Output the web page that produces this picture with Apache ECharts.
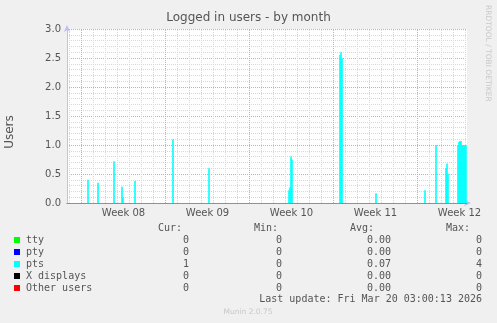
<!DOCTYPE html>
<html>
<head>
<meta charset="utf-8">
<script src="https://cdn.jsdelivr.net/npm/echarts@6/dist/echarts.min.js"></script>
<style>
html,body{margin:0;padding:0;background:#F0F0F0;}
#chart{width:497px;height:323px;}
</style>
</head>
<body>
<div id="chart"></div>
<script>
// ---- Data (x = hours since Monday 00:00 of week 08; each value covers a 2-hour slot) ----
const xMinHour = -29;
const xMaxHour = 771;
const slotHours = 2;
const ptsHours  = [12, 32, 64, 80, 82, 106, 182, 254, 414, 416, 418, 420, 516, 518, 520, 588, 686, 708, 728, 730, 732, 752, 754, 756, 758, 760, 762, 764, 766, 768];
const ptsValues = [0.40, 0.35, 0.72, 0.28, 0.10, 0.38, 1.10, 0.60, 0.22, 0.27, 0.80, 0.75, 2.55, 2.60, 2.50, 0.17, 0.22, 1.00, 0.60, 0.68, 0.50, 1.00, 1.05, 1.07, 1.07, 1.00, 1.00, 1.00, 1.00, 1.00];
const weekLabels = ['Week 08', 'Week 09', 'Week 10', 'Week 11', 'Week 12'];
const weekMidHours = [84, 252, 420, 588, 756];
const weekStartHours = [0, 168, 336, 504, 672];
const dayHours = [-24, 24, 48, 72, 96, 120, 144, 192, 216, 240, 264, 288, 312, 360, 384, 408, 432, 456, 480, 528, 552, 576, 600, 624, 648, 696, 720, 744, 768];
const yTicks = [0, 0.5, 1.0, 1.5, 2.0, 2.5, 3.0];

const legendNames  = ['tty', 'pty', 'pts', 'X displays', 'Other users'];
const legendColors = ['#00FF00', '#0000FF', '#00FFFF', '#000000', '#FF0000'];
const curVals = ['0', '0', '1', '0', '0'];
const minVals = ['0', '0', '0', '0', '0'];
const avgVals = ['0.00', '0.00', '0.07', '0.00', '0.00'];
const maxVals = ['0', '0', '4', '0', '0'];

// ---- Build series data (bar centred in its 2-hour slot) ----
const ptsData = ptsHours.map((h, i) => [h + slotHours / 2, ptsValues[i]]);

const TXT = '#555555';
const MONO = "'DejaVu Sans Mono', monospace";
const SANS = "'DejaVu Sans', sans-serif";

const graphics = [
  {type:'text', left:'center', top:12, style:{text:'Logged in users - by month', font:'12px ' + SANS, fill:TXT}},
  {type:'text', x:10, y:132, rotation:Math.PI/2, style:{text:'Users', font:'12px ' + SANS, fill:TXT, align:'center', verticalAlign:'middle'}},
  {type:'text', x:488, y:5, rotation:-Math.PI/2, style:{text:'RRDTOOL / TOBI OETIKER', font:'7.5px ' + SANS, fill:'#C8C8C8', align:'left', verticalAlign:'middle'}},
  {type:'text', x:248, y:312, style:{text:'Munin 2.0.75', font:'7.5px ' + SANS, fill:'#C8C8C8', align:'center', verticalAlign:'middle'}},
  {type:'text', x:482, y:299, style:{text:'Last update: Fri Mar 20 03:00:13 2026', font:'10px ' + MONO, fill:TXT, align:'right', verticalAlign:'middle'}}
];
const headers = [['Cur:', 182], ['Min:', 278], ['Avg:', 374], ['Max:', 470]];
headers.forEach(h => graphics.push({type:'text', x:h[1], y:228, style:{text:h[0], font:'10px ' + MONO, fill:TXT, align:'right', verticalAlign:'middle'}}));
const colRight = [189, 282, 391, 482];
legendNames.forEach((name, i) => {
  const y = 240 + i * 12;
  graphics.push({type:'rect', shape:{x:14, y:y - 3, width:6, height:6}, style:{fill:legendColors[i]}});
  graphics.push({type:'text', x:26, y:y, style:{text:name, font:'10px ' + MONO, fill:TXT, align:'left', verticalAlign:'middle'}});
  [curVals[i], minVals[i], avgVals[i], maxVals[i]].forEach((v, j) => {
    graphics.push({type:'text', x:colRight[j], y:y, style:{text:v, font:'10px ' + MONO, fill:TXT, align:'right', verticalAlign:'middle'}});
  });
});

const gridLines = [];
dayHours.forEach(h => gridLines.push({xAxis:h, lineStyle:{color:'#D8D8D8', type:'dotted', width:1}}));
weekStartHours.forEach(h => gridLines.push({xAxis:h, lineStyle:{color:'#E8A0A0', type:'dotted', width:1}}));

const chart = echarts.init(document.getElementById('chart'), null, {renderer:'canvas'});
chart.setOption({
  backgroundColor:'#F0F0F0',
  animation:false,
  grid:{left:67, right:30, top:29, bottom:120, show:true, backgroundColor:'#FFFFFF', borderWidth:0},
  xAxis:[{
    type:'value', min:xMinHour, max:xMaxHour,
    splitLine:{show:false},
    axisTick:{show:false},
    axisLine:{show:true, onZero:false, lineStyle:{color:'#C0C0F0', width:1}, symbol:['none','arrow'], symbolSize:[5,7], symbolOffset:[0,4]},
    axisLabel:{customValues:weekMidHours, formatter:v => weekLabels[weekMidHours.indexOf(v)], color:TXT, fontSize:10, fontFamily:SANS, margin:5}
  }, {
    type:'value', min:xMinHour, max:xMaxHour, position:'bottom', z:20,
    splitLine:{show:false}, axisTick:{show:false}, axisLabel:{show:false},
    axisLine:{show:true, onZero:false, lineStyle:{color:'#E07070', width:1}}
  }],
  yAxis:{
    type:'value', min:yTicks[0], max:yTicks[yTicks.length-1], interval:0.5,
    axisLine:{show:true, onZero:false, lineStyle:{color:'#C0C0F0', width:1}, symbol:['none','arrow'], symbolSize:[5,7], symbolOffset:[0,4]},
    axisTick:{show:false},
    axisLabel:{formatter:v => v.toFixed(1), color:TXT, fontSize:10, fontFamily:SANS, margin:6},
    splitLine:{show:true, lineStyle:{color:'#E8A0A0', type:'dotted', width:1}},
    minorTick:{show:false, splitNumber:5},
    minorSplitLine:{show:true, lineStyle:{color:'#D8D8D8', type:'dotted', width:1}}
  },
  graphic:graphics,
  series:[
    {
      type:'line', data:[[xMinHour,0]], symbol:'none', silent:true, z:1,
      lineStyle:{width:0},
      markLine:{silent:true, symbol:'none', z:1, label:{show:false}, animation:false, data:gridLines}
    },
    {
      name:'pts', type:'bar', data:ptsData, z:3, barWidth:1.6,
      itemStyle:{color:'#00FFFF'}
    }
  ]
});
</script>
</body>
</html>
